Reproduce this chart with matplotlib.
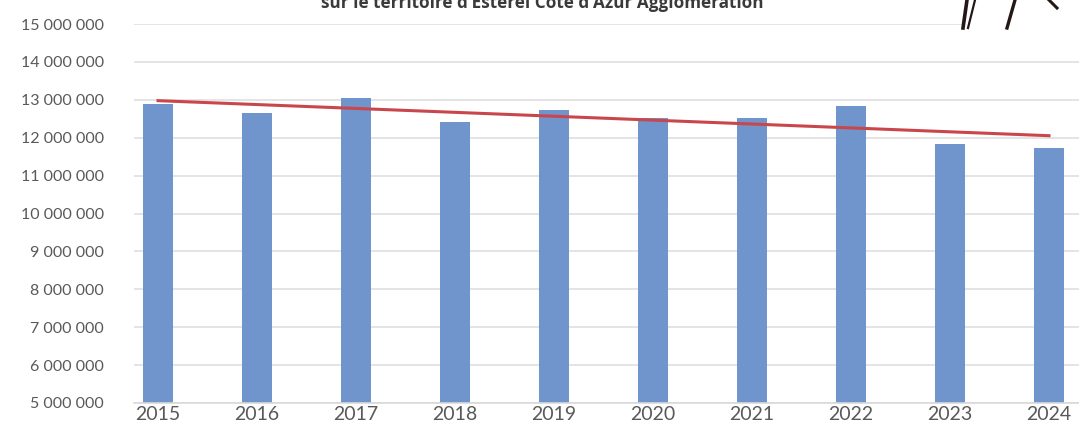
"""Bar chart with linear trend, Esterel Cote d'Azur Agglomeration, 2015-2024."""
import numpy as np
import matplotlib
matplotlib.use("Agg")
import matplotlib.pyplot as plt
from matplotlib.lines import Line2D
from matplotlib.patches import Rectangle

# --- data ---------------------------------------------------------------------
years = ["2015", "2016", "2017", "2018", "2019", "2020", "2021", "2022", "2023", "2024"]
values = [12880000, 12640000, 13060000, 12410000, 12730000,
          12510000, 12510000, 12840000, 11830000, 11740000]
y_ticks = [5000000, 6000000, 7000000, 8000000, 9000000, 10000000,
           11000000, 12000000, 13000000, 14000000, 15000000]
title = "sur le territoire d\u2019Esterel Côte d\u2019Azur Agglomération"

BAR = "#7094CC"
TREND = "#C9474B"
GRID = "#E4E4E4"
TXT = "#595959"

plt.rcParams["font.family"] = ["Lato", "DejaVu Sans"]

fig = plt.figure(figsize=(10.79, 4.24), dpi=100)
ax = fig.add_axes([134 / 1079, 1 - 403 / 424, 1 - 134 / 1079, (403 - 24) / 424])

x = np.arange(len(years))
ax.bar(x, values, width=0.3, color=BAR, zorder=2)

# linear trend like Excel's
k, b = np.polyfit(x, values, 1)
ax.plot(x[[0, -1]], k * x[[0, -1]] + b, color=TREND, lw=2.2, zorder=3)

ax.set_xlim(-0.2424, 9.303)
ax.set_ylim(y_ticks[0], y_ticks[-1])
ax.set_yticks(y_ticks)
ax.set_yticklabels([f"{v:,}".replace(",", " ") for v in y_ticks])
ax.set_xticks(x)
ax.set_xticklabels(years)
ax.tick_params(axis="y", length=0, pad=21.5, labelsize=11.5, labelcolor=TXT)
ax.tick_params(axis="x", length=0, pad=2, labelsize=14, labelcolor=TXT)
ax.grid(axis="y", color=GRID, lw=1.4, zorder=0)
for s in ("top", "right", "left"):
    ax.spines[s].set_visible(False)
ax.spines["bottom"].set_color("#D9D9D9")
ax.spines["bottom"].set_linewidth(1.2)
ax.set_facecolor("white")

# title, cut at the top of the picture
fig.text(542 / 1079, 1 - 8 / 424, title, ha="center", va="baseline",
         fontsize=12.3, fontweight="bold", color="#3A3A3A", family=["Open Sans", "DejaVu Sans"])

# logo strokes in the top right corner
fig.add_artist(Rectangle((962 / 1079, 1 - 29 / 424), 1 - 962 / 1079, 29 / 424,
                         transform=fig.transFigure, color="white", zorder=5))
strokes = [((963, 28), (967, 0), 2.6), ((968, 28), (975, 0), 1.6),
           ((1007, 28), (1015, 0), 2.4), ((1049, 0), (1057, 8), 2.2)]
for (x0, y0), (x1, y1), w in strokes:
    fig.add_artist(Line2D([x0 / 1079, x1 / 1079], [1 - y0 / 424, 1 - y1 / 424],
                          transform=fig.transFigure, color="#231815", lw=w, zorder=6))

fig.savefig("out.png", dpi=100)
